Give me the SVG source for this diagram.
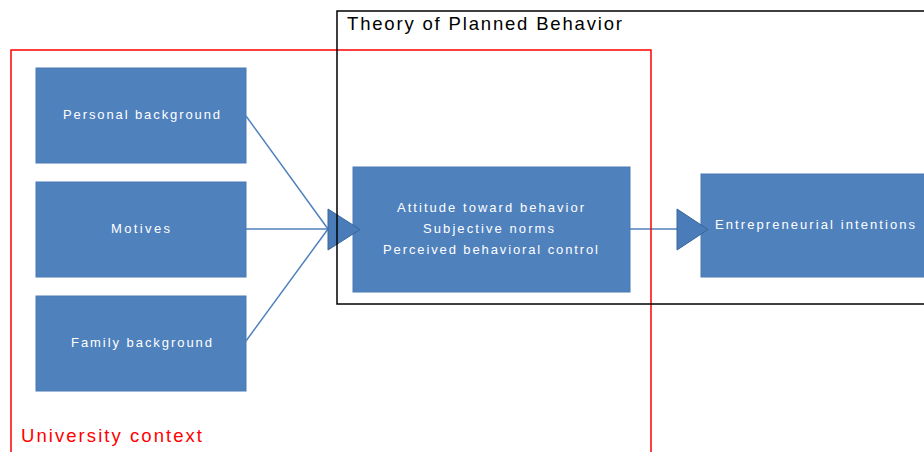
<svg xmlns="http://www.w3.org/2000/svg" width="924" height="452" viewBox="0 0 924 452">
<style>
.box{fill:#4F81BD;stroke:#4A7AB5;stroke-width:1}
.bt{fill:#ffffff;font-family:"Liberation Sans",Arial,sans-serif;font-size:13px}
.ln{stroke:#4F81BD;stroke-width:1.5;fill:none}
.tri{fill:#4A7CB9;stroke:#3A6499;stroke-width:1}
.frame{fill:none;stroke-width:1.5}
.ft{font-family:"Liberation Sans",Arial,sans-serif;font-size:18.5px}
</style>
<rect width="924" height="452" fill="#ffffff"/>
<g id="personal">
<rect class="box" x="36" y="68" width="210" height="95"/>
<text class="bt" x="63" y="119" textLength="157" lengthAdjust="spacing">Personal background</text>
</g>
<g id="motives">
<rect class="box" x="36" y="182" width="210" height="95"/>
<text class="bt" x="111" y="233" textLength="59" lengthAdjust="spacing">Motives</text>
</g>
<g id="family">
<rect class="box" x="36" y="296" width="210" height="95"/>
<text class="bt" x="71" y="347" textLength="141" lengthAdjust="spacing">Family background</text>
</g>
<g id="tpb">
<rect class="box" x="353" y="167" width="277" height="125"/>
<text class="bt" x="397" y="212" textLength="187" lengthAdjust="spacing">Attitude toward behavior</text>
<text class="bt" x="423" y="233" textLength="131" lengthAdjust="spacing">Subjective norms</text>
<text class="bt" x="383" y="254" textLength="215" lengthAdjust="spacing">Perceived behavioral control</text>
</g>
<g id="intentions">
<rect class="box" x="701" y="174" width="240" height="103"/>
<text class="bt" x="715" y="229" textLength="200" lengthAdjust="spacing">Entrepreneurial  intentions</text>
</g>
<g id="connectors">
<line class="ln" x1="246" y1="116" x2="328" y2="229"/>
<line class="ln" x1="246" y1="229" x2="328" y2="229"/>
<line class="ln" x1="246" y1="341" x2="328" y2="229"/>
<polygon class="tri" points="328,209 360,229.5 328,250"/>
<line class="ln" x1="630" y1="229" x2="677" y2="229"/>
<polygon class="tri" points="677,209 708,229.5 677,250"/>
</g>
<g id="frames">
<rect class="frame" x="11" y="50" width="640" height="420" stroke="#FF0000"/>
<rect class="frame" x="337" y="11" width="620" height="293" stroke="#000000"/>
<text class="ft" x="347" y="30" fill="#000000" textLength="275" lengthAdjust="spacing">Theory of Planned Behavior</text>
<text class="ft" x="21" y="442" fill="#FF0000" textLength="181" lengthAdjust="spacing">University context</text>
</g>
</svg>
